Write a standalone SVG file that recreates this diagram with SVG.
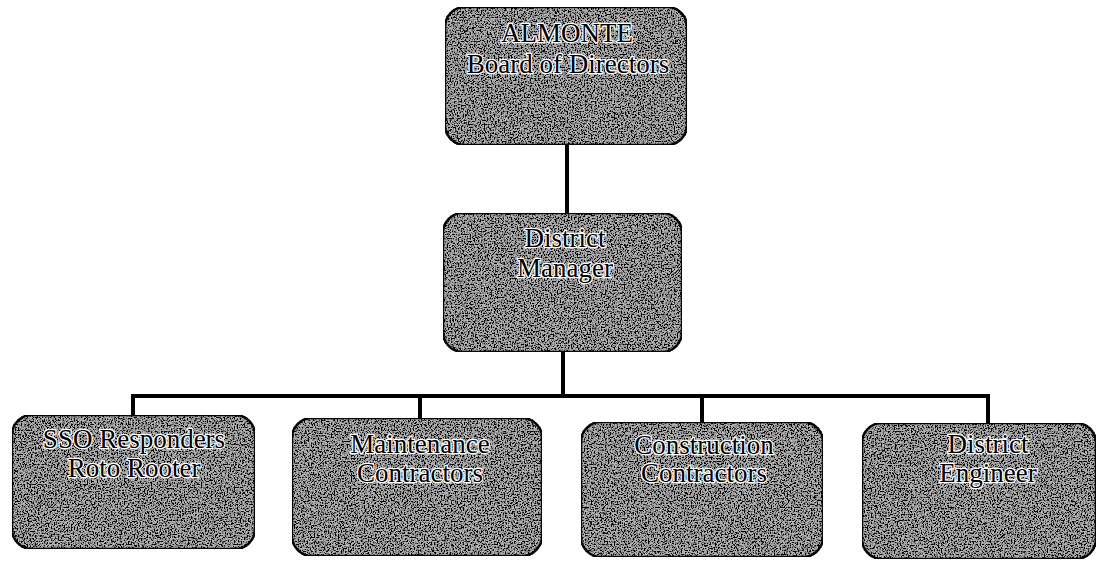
<svg xmlns="http://www.w3.org/2000/svg" width="1098" height="561" viewBox="0 0 1098 561">
<defs>
<filter id="grain" x="0" y="0" width="100%" height="100%" filterUnits="objectBoundingBox">
<feTurbulence type="fractalNoise" baseFrequency="0.7" numOctaves="2" seed="7" result="n"/>
<feColorMatrix in="n" type="matrix" values="0 0 0 0 0  0 0 0 0 0  0 0 0 0 0  0 0 0 -5 2.9" result="dots"/>
<feComposite in="dots" in2="SourceGraphic" operator="in" result="d2"/>
<feMerge><feMergeNode in="SourceGraphic"/><feMergeNode in="d2"/></feMerge>
</filter>
</defs>
<style>
.box{fill:#b4b4b4;stroke:#111;stroke-width:2.5;filter:url(#grain)}
.lbl{font-family:"Liberation Serif","Times New Roman",serif;font-size:27px;fill:#000;stroke:#fff;stroke-width:2.5;paint-order:stroke;text-anchor:middle;stroke-linejoin:round}
.con{stroke:#000;stroke-width:4;fill:none}
</style>
<rect width="1098" height="561" fill="#fff"/>
<g id="connectors">
<line class="con" x1="567" y1="145" x2="567" y2="214"/>
<line class="con" x1="563" y1="352" x2="563" y2="396"/>
<line class="con" x1="131" y1="396" x2="990" y2="396"/>
<line class="con" x1="133" y1="394" x2="133" y2="416"/>
<line class="con" x1="420" y1="394" x2="420" y2="419"/>
<line class="con" x1="702" y1="394" x2="702" y2="423"/>
<line class="con" x1="988" y1="394" x2="988" y2="424"/>
</g>
<g id="board">
<rect class="box" x="445" y="7" width="242" height="138" rx="20"/>
<text class="lbl" x="567" y="42">ALMONTE</text>
<text class="lbl" x="568" y="73">Board of Directors</text>
</g>
<g id="manager">
<rect class="box" x="443" y="213" width="239" height="139" rx="20"/>
<text class="lbl" x="565" y="247">District</text>
<text class="lbl" x="565" y="277">Manager</text>
</g>
<g id="sso">
<rect class="box" x="12" y="415" width="243" height="134" rx="20"/>
<text class="lbl" x="134" y="448">SSO Responders</text>
<text class="lbl" x="134" y="477">Roto Rooter</text>
</g>
<g id="maintenance">
<rect class="box" x="292" y="418" width="250" height="138" rx="20"/>
<text class="lbl" x="420" y="453">Maintenance</text>
<text class="lbl" x="420" y="482">Contractors</text>
</g>
<g id="construction">
<rect class="box" x="581" y="422" width="242" height="135" rx="20"/>
<text class="lbl" x="704" y="454">Construction</text>
<text class="lbl" x="704" y="482">Contractors</text>
</g>
<g id="engineer">
<rect class="box" x="862" y="423" width="234" height="136" rx="20"/>
<text class="lbl" x="988" y="453">District</text>
<text class="lbl" x="988" y="482">Engineer</text>
</g>
</svg>
